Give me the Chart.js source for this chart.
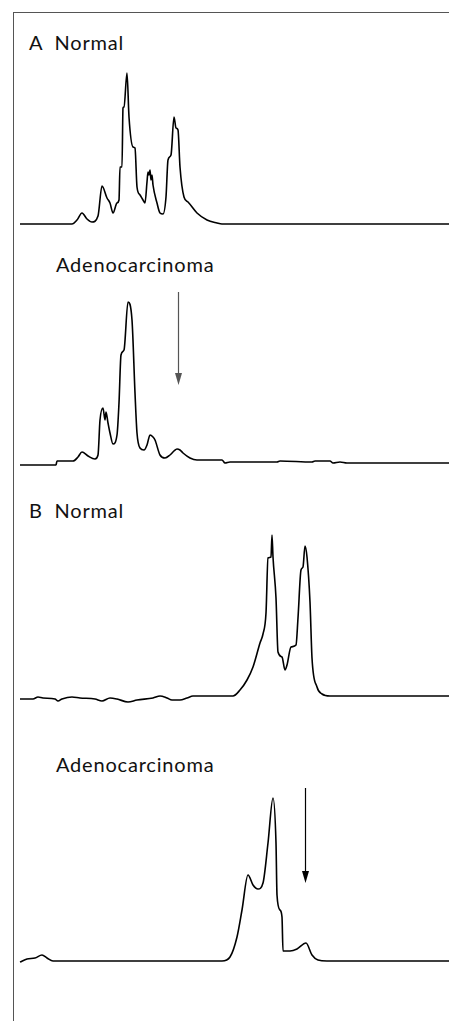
<!DOCTYPE html>
<html lang="en">
<head>
<meta charset="UTF-8">
<title>Chromatograms</title>
<script src="https://cdn.jsdelivr.net/npm/chart.js@4"></script>
<style>
    html, body { margin: 0; padding: 0; overflow: hidden; }
    body { background: #fff; width: 449px; height: 1021px; position: relative; }
    #cadre { position: absolute; left: 13px; top: 12px; width: 500px; height: 1040px;
             border-top: 1px solid #555; border-left: 1px solid #555; }
    .panneau { position: absolute; left: 14px; }
    .etiquette { position: absolute; font-family: "Lato", sans-serif; font-size: 20px; line-height: 20px;
                 letter-spacing: 0.8px; color: #111; white-space: pre; }
</style>
</head>
<body>
<div id="cadre"></div>
<div class="etiquette" style="left:29px; top:32px;">A  Normal</div>
<div class="etiquette" style="left:56px; top:254px;">Adenocarcinoma</div>
<div class="etiquette" style="left:29px; top:500px;">B  Normal</div>
<div class="etiquette" style="left:56px; top:754px;">Adenocarcinoma</div>

<canvas id="grapheA1" class="panneau" width="435" height="172" style="top:60px"></canvas>
<canvas id="grapheA2" class="panneau" width="435" height="187" style="top:285px"></canvas>
<canvas id="grapheB1" class="panneau" width="435" height="181" style="top:525px"></canvas>
<canvas id="grapheB2" class="panneau" width="435" height="190" style="top:780px"></canvas>
<script>

    // Temps (unités arbitraires) et signal
    let tempsANormal = [20,72,77,82,87,92,98,102,107,110,113,117,119,120,122,123,124,127,129,133,135,137,140,143,145,147,148,149,150,151,152,153,157,160,163,166,168,171,174,176,178,180,184,188,197,207,217,222,449];
    let signalANormal = [0,0,4,11,5,2,8,38,26,21,11,21,24,57,57,116,117,151,107,77,76,37,29,24,21,42,52,49,54,44,49,39,21,11,10,27,64,69,107,96,94,57,27,22,11,4,1,0,0];

    let tempsAAdeno = [20,56,57,73,78,82,88,95,98,100,103,105,106,108,110,113,117,119,121,124,128,132,135,137,140,144,147,150,153,155,160,165,170,174,177,180,183,190,197,222,225,230,277,280,312,315,330,333,340,347,449];
    let signalAAdeno = [-1,-1,3,3,7,12,8,5,9,44,56,44,52,41,31,20,29,61,109,114,162,144,71,31,16,14,19,29,27,24,9,6,9,13,15,14,11,6,4,4,1,2,2,3,2,3,3,1,2,1,1];

    let tempsBNormal = [20,33,38,43,55,58,62,72,80,95,102,110,117,128,137,153,160,167,172,180,187,193,233,240,247,253,260,263,266,268,271,272,273,276,278,282,285,287,291,296,298,301,303,305,307,310,312,317,322,330,449];
    let signalBNormal = [-3,-3,-1,-2,-3,-5,-3,-1,-2,-3,-5,-2,-3,-6,-4,-2,0,-2,-4,-4,-2,0,0,6,16,29,53,62,83,138,139,161,139,98,44,39,26,31,49,51,78,126,129,150,139,94,38,9,2,0,0];

    let tempsBAdeno = [20,27,35,42,47,53,222,230,237,242,248,253,258,263,268,273,276,277,280,282,283,290,297,306,312,318,327,449];
    let signalBAdeno = [-1,2,3,6,3,0,0,4,24,51,86,76,72,78,118,163,118,66,51,44,10,10,12,18,6,1,0,0];

    // Flèches : [temps, haut, pointe]
    let flecheA = [178, 172, 79];
    let flecheB = [305, 173, 78];

    let pluginFleche = {
        id: 'fleche',
        afterDatasetsDraw: (chart, args, opts) => {
            if (!opts.donnees) return;
            let ctx = chart.ctx;
            let sx = chart.scales.x, sy = chart.scales.y;
            let x = Math.round(sx.getPixelForValue(opts.donnees[0])) + 0.5;
            let y1 = sy.getPixelForValue(opts.donnees[1]);
            let y2 = sy.getPixelForValue(opts.donnees[2]);
            ctx.save();
            ctx.strokeStyle = opts.couleur;
            ctx.fillStyle = opts.couleur;
            ctx.lineWidth = 1.2;
            ctx.beginPath();
            ctx.moveTo(x, y1);
            ctx.lineTo(x, y2 - 8);
            ctx.stroke();
            ctx.beginPath();
            ctx.moveTo(x - 3.5, y2 - 12);
            ctx.lineTo(x + 3.5, y2 - 12);
            ctx.lineTo(x, y2);
            ctx.closePath();
            ctx.fill();
            ctx.restore();
        }
    };

    let creeGraphe = (id, temps, signal, ymin, ymax, fleche, couleurFleche) => {
        let points = temps.map((t, i) => ({ x: t, y: signal[i] }));
        return new Chart(document.getElementById(id), {
            type: 'line',
            data: {
                datasets: [{
                    data: points,
                    borderColor: '#000',
                    borderWidth: 1.6,
                    pointRadius: 0,
                    fill: false,
                    cubicInterpolationMode: 'monotone',
                    clip: false
                }]
            },
            options: {
                responsive: false,
                animation: false,
                layout: { padding: 0 },
                scales: {
                    x: { type: 'linear', min: 14, max: 449, display: false },
                    y: { min: ymin, max: ymax, display: false }
                },
                plugins: {
                    legend: { display: false },
                    tooltip: { enabled: false },
                    fleche: { donnees: fleche, couleur: couleurFleche }
                }
            },
            plugins: [pluginFleche]
        });
    };

    creeGraphe('grapheA1', tempsANormal, signalANormal, -8, 164, null, '#000');
    creeGraphe('grapheA2', tempsAAdeno, signalAAdeno, -8, 179, flecheA, '#555');
    creeGraphe('grapheB1', tempsBNormal, signalBNormal, -10, 171, null, '#000');
    creeGraphe('grapheB2', tempsBAdeno, signalBAdeno, -9, 181, flecheB, '#000');

</script>
</body>
</html>
